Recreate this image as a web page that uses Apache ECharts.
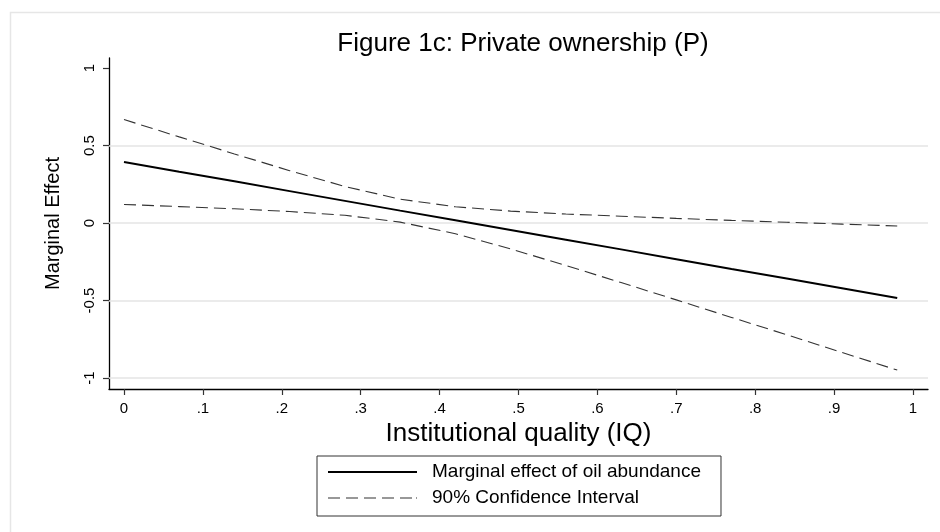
<!DOCTYPE html>
<html>
<head>
<meta charset="utf-8">
<script src="https://cdn.jsdelivr.net/npm/echarts@6/dist/echarts.min.js"></script>
<style>
  html, body { margin: 0; padding: 0; background: #ffffff; }
  #chart { width: 940px; height: 532px; }
</style>
</head>
<body>
<div id="chart"></div>
<script>
// Institutional quality grid and the estimated marginal effect with its 90% band
const iq = [0, 0.07, 0.14, 0.21, 0.28, 0.35, 0.42, 0.49, 0.56, 0.63, 0.70, 0.77, 0.84, 0.91, 0.98];
const marginalEffect = [0.394, 0.331, 0.269, 0.206, 0.143, 0.080, 0.018, -0.045, -0.108, -0.170, -0.233, -0.296, -0.358, -0.421, -0.484];
const ciUpper = [0.668, 0.556, 0.446, 0.338, 0.236, 0.154, 0.105, 0.077, 0.058, 0.044, 0.030, 0.017, 0.005, -0.007, -0.019];
const ciLower = [0.120, 0.106, 0.092, 0.074, 0.050, 0.006, -0.069, -0.167, -0.274, -0.384, -0.496, -0.609, -0.721, -0.835, -0.949];

// Axis ticks and their printed labels
const xTicks = [0, 0.1, 0.2, 0.3, 0.4, 0.5, 0.6, 0.7, 0.8, 0.9, 1];
const xTickLabels = ['0', '.1', '.2', '.3', '.4', '.5', '.6', '.7', '.8', '.9', '1'];
const yTicks = [-1, -0.5, 0, 0.5, 1];
const yTickLabels = ['-1', '-0.5', '0', '0.5', '1'];
const yGridValues = [-1, -0.5, 0, 0.5];

const seriesNames = ['Marginal effect of oil abundance', '90% Confidence Interval'];

const zip = (xs, ys) => xs.map((x, i) => [x, ys[i]]);
const labelFor = (ticks, labels) => (v) => {
  const i = ticks.findIndex(t => Math.abs(t - v) < 1e-6);
  return i >= 0 ? labels[i] : '';
};

const FONT = '"Liberation Sans", Arial, Helvetica, sans-serif';

// Legend key glyphs: a solid bar and a dashed bar, both 89px wide
const solidIcon = 'path://M0,0H89V2H0Z';
const dashedIcon = 'path://M0,0H12V1.2H0Z M18,0H30V1.2H18Z M36,0H48V1.2H36Z M54,0H66V1.2H54Z M72,0H84V1.2H72Z M88,0H89V1.2H88Z';

const chart = echarts.init(document.getElementById('chart'), null, { renderer: 'canvas' });

chart.setOption({
  backgroundColor: '#ffffff',
  animation: false,
  textStyle: { fontFamily: FONT },
  title: {
    text: 'Figure 1c: Private ownership (P)',
    left: 518,
    top: 26,
    textAlign: 'center',
    textStyle: { fontFamily: FONT, fontSize: 26, fontWeight: 'normal', color: '#000' }
  },
  graphic: [{
    type: 'rect',
    left: 8, top: 10,
    shape: { width: 940, height: 530 },
    style: { fill: 'none', stroke: '#e6e6e6', lineWidth: 1.5 },
    silent: true
  }],
  grid: { left: 109, right: 12, top: 58, bottom: 143, containLabel: false },
  xAxis: {
    type: 'value',
    min: -0.019,
    max: 1.019,
    name: 'Institutional quality (IQ)',
    nameLocation: 'middle',
    nameGap: 31,
    nameTextStyle: { fontFamily: FONT, fontSize: 26, color: '#000' },
    axisLine: { show: true, onZero: false, lineStyle: { color: '#000', width: 1.3 } },
    axisTick: { show: true, length: 6, customValues: xTicks, lineStyle: { color: '#333', width: 1.2 } },
    axisLabel: {
      customValues: xTicks,
      formatter: labelFor(xTicks, xTickLabels),
      margin: 12,
      fontFamily: FONT, fontSize: 15, color: '#000'
    },
    splitLine: { show: false }
  },
  yAxis: {
    type: 'value',
    min: -1.071,
    max: 1.065,
    name: 'Marginal Effect',
    nameLocation: 'middle',
    nameRotate: 90,
    nameGap: 46,
    nameTextStyle: { fontFamily: FONT, fontSize: 20, color: '#000' },
    axisLine: { show: true, onZero: false, lineStyle: { color: '#000', width: 1.3 } },
    axisTick: { show: true, length: 6, customValues: yTicks, lineStyle: { color: '#333', width: 1.2 } },
    axisLabel: {
      customValues: yTicks,
      formatter: labelFor(yTicks, yTickLabels),
      rotate: 90,
      margin: 12,
      fontFamily: FONT, fontSize: 15, color: '#000'
    },
    splitLine: { show: false }
  },
  legend: {
    orient: 'vertical',
    left: 317,
    top: 456,
    padding: [6, 20, 8, 11],
    itemWidth: 89,
    itemHeight: 14,
    itemGap: 6,
    borderColor: '#333',
    borderWidth: 1,
    backgroundColor: '#fff',
    selectedMode: false,
    textStyle: { fontFamily: FONT, fontSize: 19, color: '#000', lineHeight: 20, padding: [0, 0, 0, 10] },
    data: [
      { name: seriesNames[0], icon: solidIcon, itemStyle: { color: '#000', borderWidth: 0 } },
      { name: seriesNames[1], icon: dashedIcon, itemStyle: { color: '#333', borderWidth: 0 } }
    ]
  },
  series: [
    {
      name: seriesNames[0],
      type: 'line',
      data: zip(iq, marginalEffect),
      symbol: 'none',
      z: 3,
      lineStyle: { color: '#000', width: 2 },
      itemStyle: { color: '#000' },
      markLine: {
        silent: true,
        symbol: 'none',
        z: 1,
        label: { show: false },
        lineStyle: { color: '#e4e4e4', width: 1.5, type: 'solid' },
        data: yGridValues.map(v => ({ yAxis: v }))
      }
    },
    {
      name: seriesNames[1],
      type: 'line',
      data: zip(iq, ciUpper),
      symbol: 'none',
      z: 2,
      lineStyle: { color: '#333', width: 1.1, type: [12, 6] },
      itemStyle: { color: '#333' }
    },
    {
      name: seriesNames[1],
      type: 'line',
      data: zip(iq, ciLower),
      symbol: 'none',
      z: 2,
      lineStyle: { color: '#333', width: 1.1, type: [12, 6] },
      itemStyle: { color: '#333' }
    }
  ]
});
</script>
</body>
</html>
